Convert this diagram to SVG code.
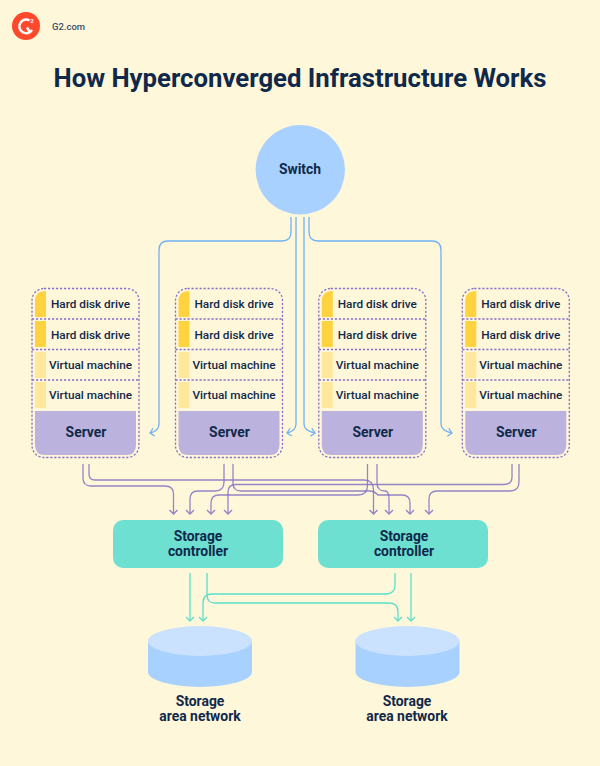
<svg xmlns="http://www.w3.org/2000/svg" width="600" height="766" viewBox="0 0 600 766">
<style>
text{font-family:Roboto,"Liberation Sans",sans-serif;fill:#10294a;text-anchor:middle}
.b{font-weight:700;font-size:13.9px}
.r{font-size:11.8px;font-weight:500}
.dash{fill:none;stroke:#8a70c6;stroke-width:1.3;stroke-dasharray:2.2 1.8}
.hd{fill:#ffd23f}.vm{fill:#ffe79b}.srv{fill:#bbb3dd}
.sc{fill:#6ee0d2}
.blue path{fill:none;stroke:#6eb2f4;stroke-width:1.3}
.pur path{fill:none;stroke:#8273c4;stroke-width:1.3;opacity:.85}
.teal path{fill:none;stroke:#5cdfca;stroke-width:1.3}
</style>
<defs>
<marker id="ab" markerUnits="userSpaceOnUse" markerWidth="12" markerHeight="12" refX="9" refY="6" orient="auto"><path d="M5 2L9 6L5 10" fill="none" stroke="#6eb2f4" stroke-width="1.3"/></marker>
<marker id="ap" markerUnits="userSpaceOnUse" markerWidth="12" markerHeight="12" refX="9" refY="6" orient="auto"><path d="M5 2L9 6L5 10" fill="none" stroke="#7d6cc2" stroke-width="1.3"/></marker>
<marker id="at" markerUnits="userSpaceOnUse" markerWidth="12" markerHeight="12" refX="9" refY="6" orient="auto"><path d="M5 2L9 6L5 10" fill="none" stroke="#5cdfca" stroke-width="1.3"/></marker>
</defs>
<rect width="600" height="766" fill="#fff7da"/>
<g id="logo"><circle cx="26" cy="26" r="14" fill="#ff492c"/><path d="M29.500 20.500A6.800 6.800 0 1 0 32 29.800M27 27.500L30.500 33" fill="none" stroke="#fff" stroke-width="2.500"/><text x="32" y="23" style="font-size:6px;font-weight:700;fill:#fff">2</text></g>
<text id="source" x="68.500" y="30" style="font-size:9.500px;font-weight:500;fill:#3f4f66">G2.com</text>
<text id="title" x="300" y="87" textLength="493" lengthAdjust="spacingAndGlyphs" style="font-size:25px;font-weight:700">How Hyperconverged Infrastructure Works</text>
<g id="connectors">
<g class="blue">
<path marker-end="url(#ab)" d="M291 217V232Q291 241 282 241H168Q159 241 159 250V424Q159 431 150 433"/>
<path marker-end="url(#ab)" d="M296 217V424Q296 431 287 433"/>
<path marker-end="url(#ab)" d="M304 217V424Q304 431 315 433"/>
<path marker-end="url(#ab)" d="M309 217V232Q309 241 318 241H432Q441 241 441 250V424Q441 431 452 433"/>
</g>
<g class="pur">
<path marker-end="url(#ap)" d="M83 464V478Q83 486 91 486H165Q173.500 486 173.500 494V514"/>
<path marker-end="url(#ap)" d="M89 464V474Q89 480 95 480H364Q373.500 480 373.500 490V514"/>
<path marker-end="url(#ap)" d="M224 464V482Q224 491 215 491H198Q190 491 190 499V514"/>
<path marker-end="url(#ap)" d="M233 464V483Q233 491 241 491H370Q374 491 378 495H402Q410 495 410 503V514"/>
<path marker-end="url(#ap)" d="M367.500 464V485Q367.500 495 358 495H219Q211 495 211 503V514"/>
<path marker-end="url(#ap)" d="M377 464V483Q377 491 385 491Q389 491 389 499V514"/>
<path marker-end="url(#ap)" d="M512 464V477Q512 484.500 504 484.500H236Q228 484.500 228 492V514"/>
<path marker-end="url(#ap)" d="M519 464V482Q519 491 510 491H437Q429 491 429 499V514"/>
</g>
<g class="teal">
<path marker-end="url(#at)" d="M190 573V621"/>
<path marker-end="url(#at)" d="M207 573V595Q207 603 215 603H389Q398 603 398 612V621"/>
<path marker-end="url(#at)" d="M395 573V585Q395 594 386 594H212Q203 594 203 603V621"/>
<path marker-end="url(#at)" d="M411 573V621"/>
</g>
</g>
<g id="switch"><circle cx="300.300" cy="169.800" r="44.700" fill="#a9d1ff"/><text class="b" x="300" y="174">Switch</text></g>
<g id="server-1" transform="translate(0 0)">
<rect class="dash" x="32" y="288.500" width="107" height="169" rx="12"/>
<path class="dash" d="M32 319H139M32 349.500H139M32 380H139"/>
<path class="hd" d="M35 317V301Q35 291 46 291V317Z"/><rect class="hd" x="35" y="321" width="11" height="26"/><rect class="vm" x="35" y="352" width="11" height="26"/><rect class="vm" x="35" y="382" width="11" height="26"/>
<path class="srv" d="M35 411H136V445Q136 455 126 455H45Q35 455 35 445Z"/>
<text class="r" x="90.500" y="307.500">Hard disk drive</text><text class="r" x="90.500" y="338.500">Hard disk drive</text><text class="r" x="90.500" y="368.500">Virtual machine</text><text class="r" x="90.500" y="398.500">Virtual machine</text>
<text class="b" x="86" y="436.500">Server</text>
</g>
<g id="server-2" transform="translate(143.500 0)">
<rect class="dash" x="32" y="288.500" width="107" height="169" rx="12"/>
<path class="dash" d="M32 319H139M32 349.500H139M32 380H139"/>
<path class="hd" d="M35 317V301Q35 291 46 291V317Z"/><rect class="hd" x="35" y="321" width="11" height="26"/><rect class="vm" x="35" y="352" width="11" height="26"/><rect class="vm" x="35" y="382" width="11" height="26"/>
<path class="srv" d="M35 411H136V445Q136 455 126 455H45Q35 455 35 445Z"/>
<text class="r" x="90.500" y="307.500">Hard disk drive</text><text class="r" x="90.500" y="338.500">Hard disk drive</text><text class="r" x="90.500" y="368.500">Virtual machine</text><text class="r" x="90.500" y="398.500">Virtual machine</text>
<text class="b" x="86" y="436.500">Server</text>
</g>
<g id="server-3" transform="translate(286.800 0)">
<rect class="dash" x="32" y="288.500" width="107" height="169" rx="12"/>
<path class="dash" d="M32 319H139M32 349.500H139M32 380H139"/>
<path class="hd" d="M35 317V301Q35 291 46 291V317Z"/><rect class="hd" x="35" y="321" width="11" height="26"/><rect class="vm" x="35" y="352" width="11" height="26"/><rect class="vm" x="35" y="382" width="11" height="26"/>
<path class="srv" d="M35 411H136V445Q136 455 126 455H45Q35 455 35 445Z"/>
<text class="r" x="90.500" y="307.500">Hard disk drive</text><text class="r" x="90.500" y="338.500">Hard disk drive</text><text class="r" x="90.500" y="368.500">Virtual machine</text><text class="r" x="90.500" y="398.500">Virtual machine</text>
<text class="b" x="86" y="436.500">Server</text>
</g>
<g id="server-4" transform="translate(430.300 0)">
<rect class="dash" x="32" y="288.500" width="107" height="169" rx="12"/>
<path class="dash" d="M32 319H139M32 349.500H139M32 380H139"/>
<path class="hd" d="M35 317V301Q35 291 46 291V317Z"/><rect class="hd" x="35" y="321" width="11" height="26"/><rect class="vm" x="35" y="352" width="11" height="26"/><rect class="vm" x="35" y="382" width="11" height="26"/>
<path class="srv" d="M35 411H136V445Q136 455 126 455H45Q35 455 35 445Z"/>
<text class="r" x="90.500" y="307.500">Hard disk drive</text><text class="r" x="90.500" y="338.500">Hard disk drive</text><text class="r" x="90.500" y="368.500">Virtual machine</text><text class="r" x="90.500" y="398.500">Virtual machine</text>
<text class="b" x="86" y="436.500">Server</text>
</g>
<g id="controller-1"><rect class="sc" x="113" y="520" width="170" height="48" rx="10"/><text class="b" x="198" y="540.500">Storage</text><text class="b" x="198" y="555.500">controller</text></g>
<g id="controller-2"><rect class="sc" x="318" y="520" width="170" height="48" rx="10"/><text class="b" x="404" y="540.500">Storage</text><text class="b" x="404" y="555.500">controller</text></g>
<g id="san-1"><path d="M148 641V672A52 15 0 0 0 252 672V641Z" fill="#a9d1ff"/><ellipse cx="200" cy="641" rx="52" ry="15" fill="#cbe2ff"/><text class="b" x="200" y="705.500">Storage</text><text class="b" x="200" y="720.500">area network</text></g>
<g id="san-2"><path d="M355.500 641V672A52 15 0 0 0 459.500 672V641Z" fill="#a9d1ff"/><ellipse cx="407.500" cy="641" rx="52" ry="15" fill="#cbe2ff"/><text class="b" x="407" y="705.500">Storage</text><text class="b" x="407" y="720.500">area network</text></g>
</svg>
